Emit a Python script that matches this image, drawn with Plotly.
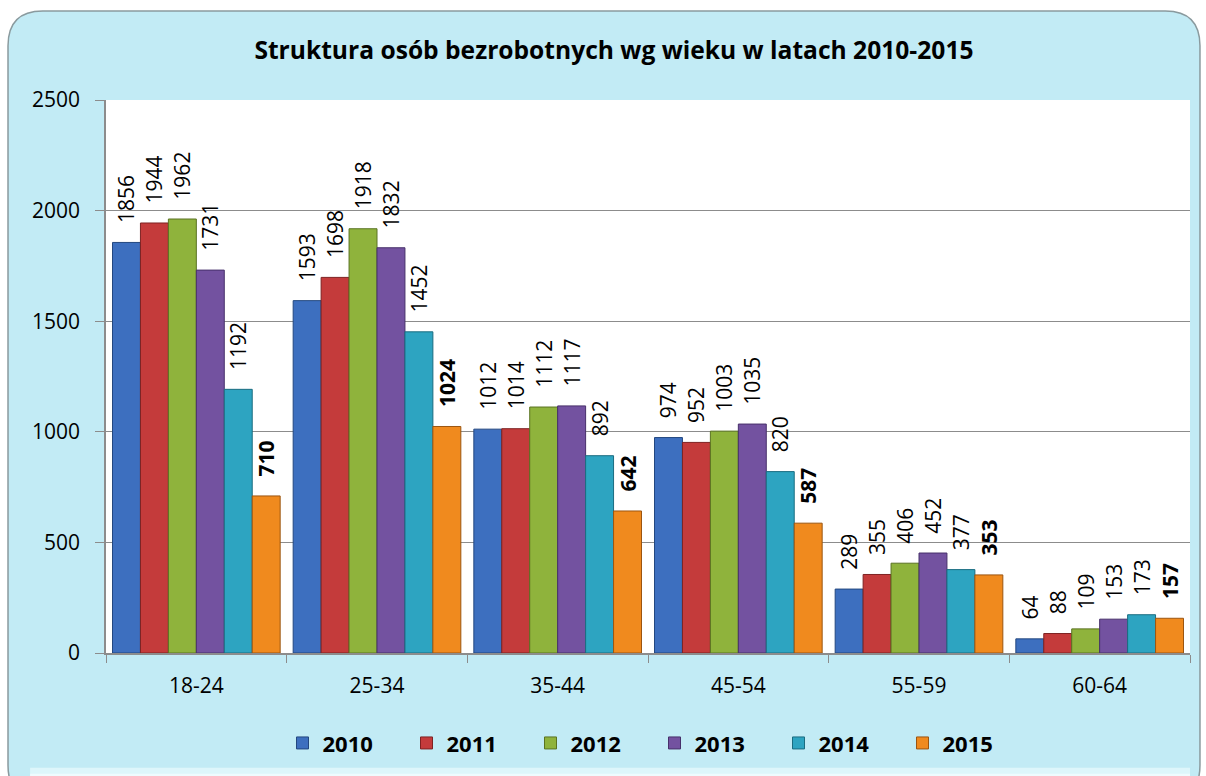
import plotly.graph_objects as go

categories = ["18-24", "25-34", "35-44", "45-54", "55-59", "60-64"]
years = ["2010", "2011", "2012", "2013", "2014", "2015"]
values = {
    "2010": [1856, 1593, 1012, 974, 289, 64],
    "2011": [1944, 1698, 1014, 952, 355, 88],
    "2012": [1962, 1918, 1112, 1003, 406, 109],
    "2013": [1731, 1832, 1117, 1035, 452, 153],
    "2014": [1192, 1452, 892, 820, 377, 173],
    "2015": [710, 1024, 642, 587, 353, 157],
}
colors = {
    "2010": "#3D6FBF",
    "2011": "#C43B3B",
    "2012": "#8FB33C",
    "2013": "#7352A0",
    "2014": "#2DA4C1",
    "2015": "#F08A1E",
}
edge = {
    "2010": "#23477F",
    "2011": "#7E2222",
    "2012": "#5A7322",
    "2013": "#47306A",
    "2014": "#1A6C80",
    "2015": "#9C5510",
}
title_text = "Struktura osób bezrobotnych wg wieku w latach 2010-2015"
font_family = "Open Sans, DejaVu Sans, sans-serif"
PAD = "\u00a0\u00a0\u00a0"

fig = go.Figure()
for y in years:
    bold = (y == "2015")
    txt = [PAD + (f"<b>{v}</b>" if bold else str(v)) for v in values[y]]
    fig.add_trace(go.Bar(
        name=f"<b>{y}</b>",
        x=categories,
        y=values[y],
        text=txt,
        textposition="outside",
        textangle=-90,
        constraintext="none",
        cliponaxis=False,
        textfont=dict(family=font_family, size=21, color="#000000"),
        marker=dict(color=colors[y], line=dict(color=edge[y], width=1)),
    ))

# background rounded panel (paper coordinates relative to plot area)
x0, x1 = -0.0904, 1.0092
y0, y1 = -0.266, 1.161
rx, ry = 0.032, 0.063
path = (f"M {x0+rx},{y1} L {x1-rx},{y1} Q {x1},{y1} {x1},{y1-ry} "
        f"L {x1},{y0+ry} Q {x1},{y0} {x1-rx},{y0} L {x0+rx},{y0} "
        f"Q {x0},{y0} {x0},{y0+ry} L {x0},{y1-ry} Q {x0},{y1} {x0+rx},{y1} Z")

fig.update_layout(
    width=1206, height=776,
    margin=dict(l=106, r=16, t=100, b=123),
    paper_bgcolor="#FFFFFF",
    plot_bgcolor="#FFFFFF",
    barmode="group",
    bargap=0.072,
    bargroupgap=0,
    font=dict(family=font_family, size=21, color="#000000"),
    title=dict(text=f"<b>{title_text}</b>", x=0.4686, xanchor="center",
               xref="paper", y=0.9356, yanchor="middle",
               font=dict(family=font_family, size=24.6, color="#000000")),
    shapes=[
        dict(type="path", path=path, xref="paper", yref="paper",
             fillcolor="#C2EBF5", line=dict(color="#8A9A9E", width=1.5),
             layer="below"),
        dict(type="rect", x0=-0.07, x1=1.0, y0=-0.2477, y1=-0.2075,
             xref="paper", yref="paper",
             fillcolor="#DDF6FB", line=dict(width=0), layer="below"),
        dict(type="rect", x0=-0.07, x1=1.0, y0=-0.2477, y1=-0.2185,
             xref="paper", yref="paper",
             fillcolor="#EEFBFE", line=dict(width=0), layer="below"),
        dict(type="rect", x0=0, x1=1, y0=0, y1=1, xref="paper", yref="paper",
             fillcolor="#FFFFFF", line=dict(width=0), layer="below"),
    ],
    xaxis=dict(
        showline=True, linecolor="#8C8C8C", linewidth=1.5,
        ticks="outside", tickson="boundaries", ticklen=8, tickcolor="#8C8C8C",
        tickfont=dict(family=font_family, size=21),
        showgrid=False, ticklabelstandoff=13,
    ),
    yaxis=dict(
        range=[0, 2500], tickvals=[0, 500, 1000, 1500, 2000, 2500],
        showline=True, linecolor="#8C8C8C", linewidth=1.5,
        ticks="outside", ticklen=9, tickcolor="#8C8C8C",
        showgrid=True, gridcolor="#8C8C8C", gridwidth=1,
        zeroline=False,
        tickfont=dict(family=font_family, size=21),
        ticklabelstandoff=11,
    ),
    legend=dict(
        orientation="h", x=0.506, xanchor="center", y=-0.163, yanchor="middle",
        font=dict(family=font_family, size=22, color="#000000"),
        bgcolor="rgba(0,0,0,0)", traceorder="normal",
        entrywidth=79, entrywidthmode="pixels",
    ),
)

fig.write_html("out.html", config={"displayModeBar": False},
               post_script="document.body.style.margin='0';")
